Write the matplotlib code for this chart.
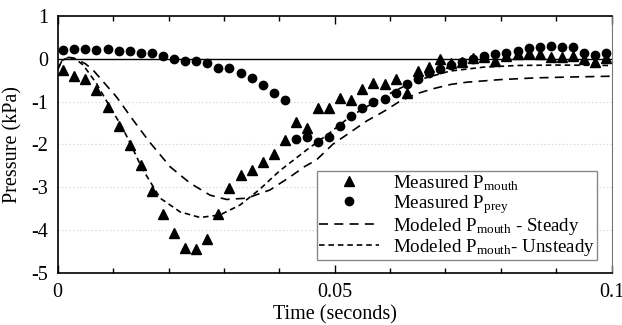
import matplotlib
matplotlib.use('Agg')
import matplotlib.pyplot as plt

plt.rcParams['font.family'] = ['Liberation Serif', 'DejaVu Serif']
plt.rcParams['mathtext.fontset'] = 'custom'
plt.rcParams['mathtext.rm'] = 'Liberation Serif'
plt.rcParams['mathtext.it'] = 'Liberation Serif:italic'
plt.rcParams['mathtext.default'] = 'regular'
plt.rcParams['axes.unicode_minus'] = False
plt.rcParams['lines.scale_dashes'] = False

# sample times of the measured points (s)
t_meas = [0.001, 0.003, 0.005, 0.007, 0.009, 0.011, 0.013, 0.015, 0.017, 0.019,
          0.021, 0.023, 0.025, 0.027, 0.029, 0.031, 0.033, 0.035, 0.037, 0.039,
          0.041, 0.043, 0.045, 0.047, 0.049, 0.051, 0.053, 0.055, 0.057, 0.059,
          0.061, 0.063, 0.065, 0.067, 0.069, 0.071, 0.073, 0.075, 0.077, 0.079,
          0.081, 0.083, 0.085, 0.087, 0.089, 0.091, 0.093, 0.095, 0.097, 0.099]

# measured mouth pressure (kPa)
p_mouth = [-0.27, -0.41, -0.48, -0.72, -1.13, -1.57, -2.01, -2.48, -3.08, -3.63,
           -4.06, -4.40, -4.44, -4.19, -3.62, -3.02, -2.70, -2.60, -2.40, -2.21,
           -1.90, -1.47, -1.62, -1.16, -1.16, -0.91, -0.96, -0.71, -0.56, -0.58,
           -0.48, -0.79, -0.30, -0.19, -0.02, -0.10, -0.07, 0.02, 0.03, -0.05,
           0.05, 0.10, 0.13, 0.10, 0.04, 0.03, 0.06, -0.02, -0.08, 0.02]

# measured prey pressure (kPa)
p_prey = [0.20, 0.22, 0.22, 0.19, 0.22, 0.18, 0.17, 0.14, 0.13, 0.07,
          -0.01, -0.05, -0.06, -0.11, -0.23, -0.23, -0.34, -0.46, -0.62, -0.80,
          -0.96, -1.88, -1.82, -1.94, -1.83, -1.58, -1.33, -1.14, -1.02, -0.93,
          -0.79, -0.59, -0.47, -0.33, -0.24, -0.15, -0.07, 0.00, 0.07, 0.10,
          0.14, 0.18, 0.24, 0.26, 0.29, 0.28, 0.26, 0.14, 0.09, 0.14]

# modeled mouth pressure, steady
t_steady = [0.0, 0.0008, 0.002, 0.0035, 0.005, 0.0064, 0.0085, 0.0106, 0.0136,
            0.0165, 0.0203, 0.0239, 0.0275, 0.0305, 0.0341, 0.0383, 0.042, 0.0445,
            0.0467, 0.0497, 0.053, 0.0558, 0.059, 0.0618, 0.065, 0.0678, 0.071,
            0.0738, 0.0798, 0.086, 0.092, 0.1]
p_steady = [-0.25, -0.04, 0.03, -0.02, -0.12, -0.27, -0.58, -0.89, -1.43,
            -1.93, -2.52, -2.90, -3.18, -3.28, -3.25, -3.06, -2.75, -2.52,
            -2.36, -1.99, -1.70, -1.45, -1.22, -0.99, -0.81, -0.70, -0.60,
            -0.55, -0.49, -0.45, -0.43, -0.41]

# modeled mouth pressure, unsteady
t_unsteady = [0.0, 0.0008, 0.002, 0.003, 0.0046, 0.007, 0.0094, 0.0116, 0.0132,
              0.0152, 0.0185, 0.0221, 0.0257, 0.0293, 0.0329, 0.0365, 0.04, 0.0449,
              0.0486, 0.0528, 0.0576, 0.061, 0.0648, 0.0708, 0.0768, 0.083, 0.09, 0.1]
p_unsteady = [-0.25, -0.04, 0.03, 0.01, -0.15, -0.58, -1.12, -1.59, -2.00,
              -2.55, -3.25, -3.57, -3.70, -3.64, -3.41, -3.04, -2.62, -2.13,
              -1.78, -1.35, -0.98, -0.74, -0.51, -0.29, -0.20, -0.16, -0.15, -0.16]

fig = plt.figure(figsize=(6.22, 3.25), dpi=100)
ax = fig.add_axes([0.0928, 0.159, 0.8906, 0.7928])

ax.axhline(0, color='black', lw=1.0, zorder=1)
ax.plot(t_meas, p_mouth, '^', color='black', ms=7, label='Measured P$_{mouth}$', zorder=3)
ax.plot(t_meas, p_prey, 'o', color='black', ms=6, label='Measured P$_{prey}$', zorder=3)
ax.plot(t_steady, p_steady, color='black', lw=1.2, dashes=(6.5, 4.5),
        label='Modeled P$_{mouth}$ - Steady', zorder=2)
ax.plot(t_unsteady, p_unsteady, color='black', lw=1.2, dashes=(4, 2.8),
        label='Modeled P$_{mouth}$- Unsteady', zorder=2)

ax.set_xlim(0, 0.1)
ax.set_ylim(-5, 1)
ax.set_xticks([0, 0.05, 0.1])
ax.set_xticklabels(['0', '0.05', '0.1'])
ax.set_xticks([0.01, 0.02, 0.03, 0.04, 0.06, 0.07, 0.08, 0.09], minor=True)
ax.set_yticks([1, 0, -1, -2, -3, -4, -5])
ax.tick_params(axis='x', which='major', direction='in', length=6, width=1,
               top=True, labelsize=14.5, pad=7)
ax.tick_params(axis='x', which='minor', direction='in', length=3.5, width=1, top=True)
ax.tick_params(axis='y', length=0, labelsize=14.5, pad=7)

ax.yaxis.grid(True, linestyle=':', color='#d8d8d8', lw=0.8)
ax.set_axisbelow(True)

for s in ['left', 'bottom', 'top']:
    ax.spines[s].set_linewidth(1.2)
ax.spines['right'].set_color('#777777')

ax.set_xlabel('Time (seconds)', fontsize=14.5, labelpad=2)
ax.set_ylabel('Pressure (kPa)', fontsize=14.5, labelpad=6)

leg = ax.legend(loc='lower right', bbox_to_anchor=(0.9735, 0.052), fontsize=13.7,
                frameon=True, fancybox=False, edgecolor='#888888', framealpha=1,
                handlelength=3.15, handletextpad=0.7, labelspacing=0.0,
                borderpad=0.12, borderaxespad=0)
leg.get_frame().set_linewidth(1.0)

fig.savefig('out.png', dpi=100)
